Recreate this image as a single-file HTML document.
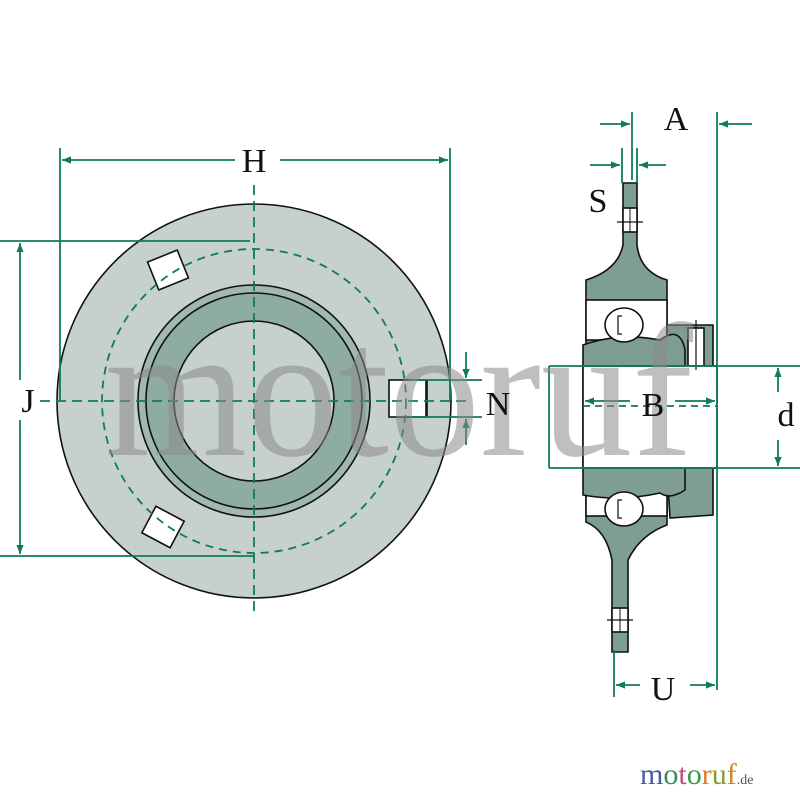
<!DOCTYPE html>
<html><head><meta charset="utf-8"><style>
html,body{margin:0;padding:0;background:#fff;}
svg{display:block;}
</style></head><body>
<svg width="800" height="800" viewBox="0 0 800 800" xmlns="http://www.w3.org/2000/svg">
<defs>
<marker id="ar" viewBox="0 0 10 10" refX="10" refY="5" markerWidth="9" markerHeight="9" orient="auto-start-reverse" markerUnits="userSpaceOnUse">
<path d="M0,1 L10,5 L0,9 Z" fill="#0e7a5e"/></marker>
</defs>
<g stroke="#111" stroke-width="1.6">
<circle cx="254" cy="401" r="197" fill="#c6d0cd"/>
<circle cx="254" cy="401" r="116" fill="#9fb8b0"/>
<circle cx="254" cy="401" r="108" fill="#8eaca2"/>
<circle cx="254" cy="401" r="80" fill="#c6d0cd"/>
<rect x="152" y="255" width="32" height="30" fill="#fff" transform="rotate(-22 168 270)"/>
<rect x="147" y="512" width="32" height="30" fill="#fff" transform="rotate(28 163 527)"/>
<rect x="389" y="380" width="38" height="37" fill="#fff"/>
<line x1="426" y1="380" x2="426" y2="417"/>
</g>
<g fill="none" stroke="#0e7a5e" stroke-width="1.8">
<circle cx="254" cy="401" r="152" stroke-dasharray="8,6"/>
<line x1="254" y1="185" x2="254" y2="615" stroke-dasharray="10,6"/>
<line x1="40" y1="401" x2="470" y2="401" stroke-dasharray="10,6"/>
<line x1="60" y1="148" x2="60" y2="400"/>
<line x1="450" y1="148" x2="450" y2="400"/>
<line x1="62" y1="160" x2="235" y2="160" marker-start="url(#ar)"/>
<line x1="280" y1="160" x2="448" y2="160" marker-end="url(#ar)"/>
<line x1="0" y1="241" x2="250" y2="241"/>
<line x1="0" y1="556" x2="254" y2="556"/>
<line x1="20" y1="243" x2="20" y2="380" marker-start="url(#ar)"/>
<line x1="20" y1="420" x2="20" y2="554" marker-end="url(#ar)"/>
<line x1="410" y1="380" x2="482" y2="380"/>
<line x1="410" y1="417" x2="482" y2="417"/>
<line x1="466" y1="352" x2="466" y2="378" marker-end="url(#ar)"/>
<line x1="466" y1="445" x2="466" y2="419" marker-end="url(#ar)"/>
</g>
<g stroke="#111" stroke-width="1.6" fill="#7f9e93">
<path d="M623,183 L637,183 L637,245 Q640,272 667,280 L667,525 Q640,535 628,560 L628,652 L612,652 L612,560 Q606,530 586,522 L586,280 Q618,270 623,245 Z"/>
<rect x="586" y="300" width="81" height="40" fill="#fff"/>
<rect x="586" y="476" width="81" height="40" fill="#fff"/>
<rect x="623" y="208" width="14" height="24" fill="#fff"/>
<rect x="612" y="608" width="16" height="24" fill="#fff"/>
<path d="M667,325 L713,325 L713,515 L670,518 L667,470 Z"/>
<rect x="688" y="328" width="16" height="38" fill="#fff"/>
<path d="M583,345 Q620,332 660,340 Q680,325 685,350 L685,490 Q670,500 660,493 Q620,502 583,495 Z"/>
<rect x="583" y="366" width="134" height="102" fill="#fff"/>
<ellipse cx="624" cy="325" rx="19" ry="17" fill="#fff"/>
<ellipse cx="624" cy="509" rx="19" ry="17" fill="#fff"/>
<path d="M622,316 L618,316 L618,334 L622,334" fill="none" stroke-width="1.2"/>
<path d="M622,500 L618,500 L618,518 L622,518" fill="none" stroke-width="1.2"/>
<line x1="617" y1="222" x2="643" y2="222" stroke-width="1.2"/>
<line x1="607" y1="620" x2="633" y2="620" stroke-width="1.2"/>
<line x1="630" y1="208" x2="630" y2="232" stroke-width="1"/>
<line x1="620" y1="608" x2="620" y2="632" stroke-width="1"/>
<line x1="696" y1="320" x2="696" y2="370" stroke-width="1.2"/>
</g>
<g fill="none" stroke="#0e7a5e" stroke-width="1.8">
<line x1="632" y1="112" x2="632" y2="180"/>
<line x1="717" y1="112" x2="717" y2="690"/>
<line x1="600" y1="124" x2="630" y2="124" marker-end="url(#ar)"/>
<line x1="752" y1="124" x2="719" y2="124" marker-end="url(#ar)"/>
<line x1="622" y1="148" x2="622" y2="183"/>
<line x1="637" y1="148" x2="637" y2="183"/>
<line x1="590" y1="165" x2="620" y2="165" marker-end="url(#ar)"/>
<line x1="666" y1="165" x2="639" y2="165" marker-end="url(#ar)"/>
<line x1="549" y1="366" x2="800" y2="366"/>
<line x1="549" y1="468" x2="800" y2="468"/>
<line x1="549" y1="366" x2="549" y2="468"/>
<line x1="778" y1="392" x2="778" y2="368" marker-end="url(#ar)"/>
<line x1="778" y1="440" x2="778" y2="466" marker-end="url(#ar)"/>
<line x1="630" y1="401" x2="585" y2="401" marker-end="url(#ar)"/>
<line x1="675" y1="401" x2="715" y2="401" marker-end="url(#ar)"/>
<line x1="583" y1="406" x2="717" y2="406" stroke-dasharray="7,5"/>
<line x1="614" y1="650" x2="614" y2="697"/>
<line x1="640" y1="685" x2="616" y2="685" marker-end="url(#ar)"/>
<line x1="690" y1="685" x2="715" y2="685" marker-end="url(#ar)"/>
</g>
<text x="105" y="455" font-family="Liberation Serif, serif" font-size="190" textLength="588" lengthAdjust="spacingAndGlyphs" fill="#8a8a8a" fill-opacity="0.55">motoruf</text>
<g font-family="Liberation Serif, serif" font-size="34" fill="#111">
<text x="254" y="172" text-anchor="middle">H</text>
<text x="28" y="412" text-anchor="middle">J</text>
<text x="498" y="415" text-anchor="middle">N</text>
<text x="676" y="130" text-anchor="middle">A</text>
<text x="598" y="212" text-anchor="middle">S</text>
<text x="653" y="416" text-anchor="middle">B</text>
<text x="786" y="426" text-anchor="middle">d</text>
<text x="663" y="700" text-anchor="middle">U</text>
</g>
<text x="640" y="784" font-family="Liberation Serif, serif" font-size="30"><tspan fill="#4a5aa8">m</tspan><tspan fill="#3a8a5a">o</tspan><tspan fill="#c04a8a">t</tspan><tspan fill="#3a9a4a">o</tspan><tspan fill="#e07a2a">r</tspan><tspan fill="#8a9a2a">u</tspan><tspan fill="#d08a20">f</tspan><tspan fill="#555" font-size="14">.de</tspan></text>
</svg>
</body></html>
